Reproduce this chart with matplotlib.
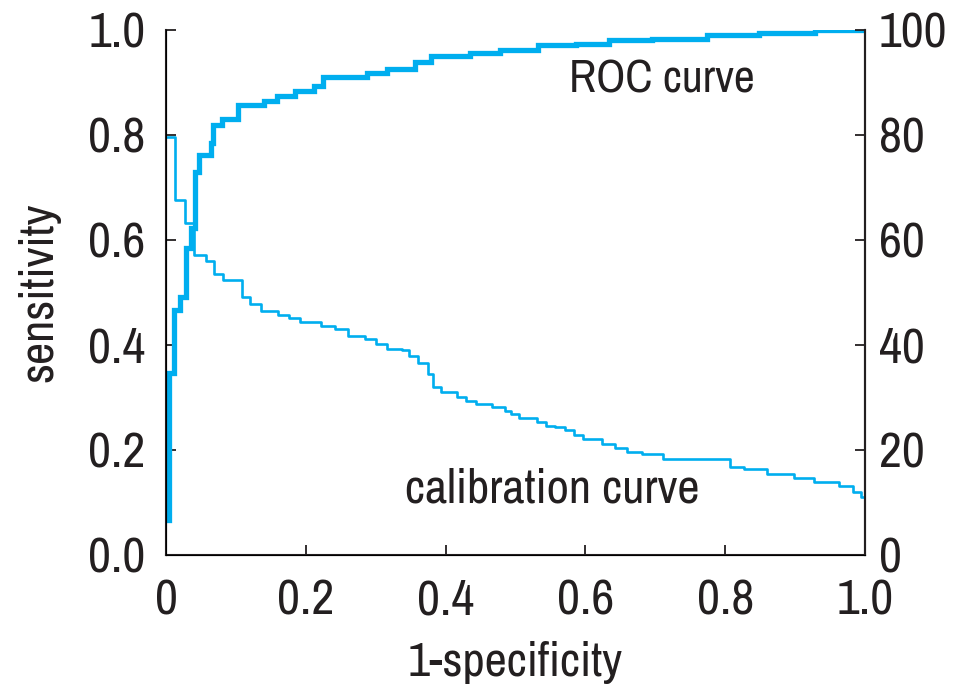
import matplotlib.pyplot as plt
from matplotlib import font_manager

# ROC curve: x where each step starts, sensitivity level from that x on
roc_fpr = [0.004, 0.004, 0.011, 0.020, 0.029, 0.036, 0.041, 0.047, 0.064, 0.067,
           0.080, 0.103, 0.140, 0.159, 0.185, 0.212, 0.225, 0.288, 0.316, 0.356,
           0.379, 0.435, 0.478, 0.532, 0.587, 0.634, 0.695, 0.774, 0.848, 0.928, 1.0]
roc_sens = [0.067, 0.347, 0.467, 0.491, 0.585, 0.623, 0.728, 0.762, 0.785, 0.819,
            0.829, 0.857, 0.865, 0.874, 0.884, 0.893, 0.910, 0.918, 0.926, 0.939,
            0.950, 0.956, 0.962, 0.970, 0.973, 0.981, 0.983, 0.989, 0.994, 1.0, 1.0]

# calibration curve (right axis, 0-100)
cal_x = [0.0, 0.013, 0.027, 0.040, 0.057, 0.069, 0.082, 0.109, 0.120, 0.136,
         0.160, 0.176, 0.192, 0.222, 0.242, 0.260, 0.285, 0.300, 0.316, 0.338,
         0.348, 0.361, 0.375, 0.382, 0.393, 0.416, 0.429, 0.443, 0.466, 0.485,
         0.494, 0.505, 0.531, 0.544, 0.557, 0.571, 0.584, 0.597, 0.624, 0.642,
         0.660, 0.681, 0.711, 0.807, 0.827, 0.860, 0.898, 0.927, 0.963, 0.983,
         0.994, 1.0]
cal_y = [79.6, 67.6, 63.2, 57.1, 56.0, 53.5, 52.4, 49.0, 47.8, 46.5,
         45.7, 45.0, 44.4, 43.6, 43.0, 41.7, 41.1, 40.2, 39.2, 38.9,
         37.9, 36.6, 34.5, 32.0, 31.0, 30.1, 29.3, 28.8, 28.2, 27.4,
         26.9, 26.1, 25.3, 24.6, 24.4, 23.8, 22.9, 22.1, 21.0, 20.4,
         19.6, 19.2, 18.3, 16.8, 16.4, 15.4, 14.7, 13.9, 13.1, 12.0,
         11.0, 11.0]

xticks = [0, 0.2, 0.4, 0.6, 0.8, 1.0]
xticklabels = ['0', '0.2', '0.4', '0.6', '0.8', '1.0']
yticks = [0, 0.2, 0.4, 0.6, 0.8, 1.0]
y2ticks = [0, 20, 40, 60, 80, 100]

# look for a narrow face, the original uses a condensed sans
narrow = [f.name for f in font_manager.fontManager.ttflist
          if 'Narrow' in f.name or 'Condensed' in f.name]
if narrow:
    plt.rcParams['font.family'] = [narrow[0], 'DejaVu Sans']
else:
    plt.rcParams['font.family'] = ['DejaVu Sans']
    plt.rcParams['font.stretch'] = 'condensed'

blue = '#00AEEF'
ink = '#231f20'
fs_tick = 36
fs_lab = 35

fig = plt.figure(figsize=(9.6, 6.9), dpi=100)
ax = fig.add_axes([0.173, 0.196, 0.728, 0.761])
ax.step(roc_fpr, roc_sens, where='post', color=blue, lw=3.8, solid_joinstyle='miter')
ax.set_xlim(0, 1)
ax.set_ylim(0, 1)
ax.set_xticks(xticks)
ax.set_xticklabels(xticklabels)
ax.set_yticks(yticks)
ax.set_yticklabels(['%.1f' % t for t in yticks])
ax.tick_params(direction='in', length=7, width=1.3, labelsize=fs_tick, colors=ink)
ax.tick_params(axis='x', pad=17)
ax.tick_params(axis='y', pad=15)
ax.spines['top'].set_visible(False)
for s in ['left', 'bottom', 'right']:
    ax.spines[s].set_linewidth(1.5)
    ax.spines[s].set_color(ink)
ax.set_xlabel('1-specificity', fontsize=fs_lab, color=ink, labelpad=13)
ax.set_ylabel('sensitivity', fontsize=fs_lab, color=ink, labelpad=20)

ax2 = ax.twinx()
ax2.step(cal_x, cal_y, where='post', color=blue, lw=1.9)
ax2.set_ylim(0, 100)
ax2.set_yticks(y2ticks)
ax2.tick_params(direction='in', length=7, width=1.3, labelsize=fs_tick, colors=ink, pad=10)
ax2.spines['top'].set_visible(False)
ax2.spines['right'].set_linewidth(1.5)
ax2.spines['right'].set_color(ink)

ax.text(0.709, 0.905, 'ROC curve', fontsize=33, color=ink, ha='center', va='center')
ax.text(0.552, 0.125, 'calibration curve', fontsize=fs_lab, color=ink, ha='center', va='center')

fig.savefig('out.png', dpi=100)
